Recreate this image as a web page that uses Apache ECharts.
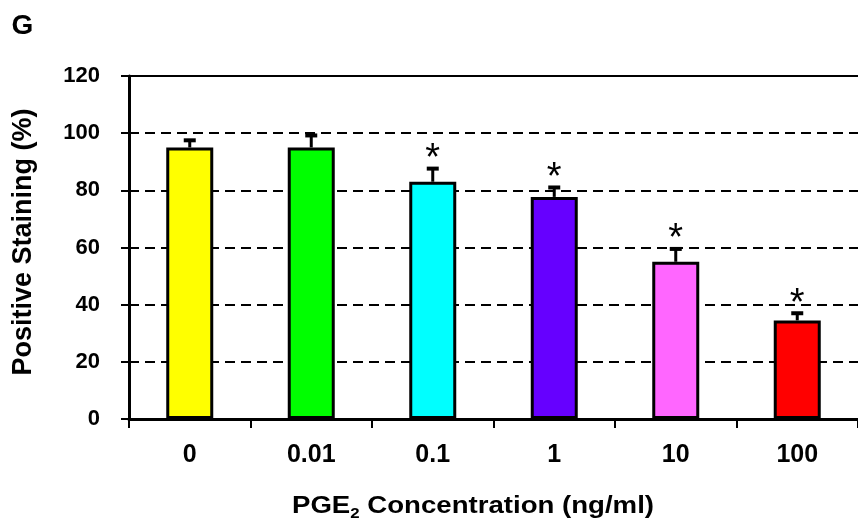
<!DOCTYPE html>
<html>
<head>
<meta charset="utf-8">
<script src="https://cdn.jsdelivr.net/npm/echarts@6/dist/echarts.min.js"></script>
<style>html,body{margin:0;padding:0;background:#fff}#c{width:858px;height:523px}</style>
</head>
<body>
<div id="c"></div>
<script>
var categories = ['0', '0.01', '0.1', '1', '10', '100'];
var means = [95, 95, 83, 77.7, 55, 34.5];
var errors = [2.5, 4.2, 4.6, 3.3, 4.5, 2.5];
var significant = [0, 0, 1, 1, 1, 1];
var barColors = ['#FFFF00', '#00FF00', '#00FFFF', '#6600FF', '#FF66FF', '#FF0000'];
var yTicks = [0, 20, 40, 60, 80, 100, 120];

var FONT = 'Liberation Sans';
var chart = echarts.init(document.getElementById('c'), null, {renderer: 'canvas'});

var barData = means.map(function (v, i) {
  return {value: v, itemStyle: {color: barColors[i]}};
});
var errData = categories.map(function (c, i) {
  return [i, means[i], errors[i], significant[i]];
});

chart.setOption({
  animation: false,
  backgroundColor: '#fff',
  grid: {left: 129, top: 76, width: 738, height: 343, containLabel: false},
  xAxis: [{
    type: 'category',
    data: categories,
    position: 'bottom',
    axisLine: {lineStyle: {color: '#000', width: 3}},
    axisTick: {show: true, length: 9, lineStyle: {color: '#000', width: 2}},
    axisLabel: {color: '#000', fontFamily: FONT, fontWeight: 'bold', fontSize: 25, margin: 24},
    splitLine: {show: false}
  }, {
    type: 'category',
    data: categories,
    position: 'top',
    axisLine: {show: true, lineStyle: {color: '#000', width: 2}},
    axisTick: {show: false},
    axisLabel: {show: false},
    splitLine: {show: false}
  }],
  yAxis: {
    type: 'value',
    min: yTicks[0],
    max: yTicks[yTicks.length - 1],
    interval: yTicks[1] - yTicks[0],
    axisLine: {show: true, lineStyle: {color: '#000', width: 3}},
    axisTick: {show: true, length: 8, lineStyle: {color: '#000', width: 2}},
    axisLabel: {color: '#000', fontFamily: FONT, fontWeight: 'bold', fontSize: 22, margin: 29},
    splitLine: {show: true, showMinLine: false, showMaxLine: false,
      lineStyle: {color: '#000', width: 2, type: [10, 6]}}
  },
  graphic: [
    {type: 'text', x: 22.5, y: 26, style: {text: 'G', font: 'bold 28px "Liberation Sans"', fill: '#000', textAlign: 'center', textVerticalAlign: 'middle'}},
    {type: 'text', x: 24, y: 242, rotation: Math.PI / 2,
      style: {text: 'Positive Staining (%)', font: 'bold 27px "Liberation Sans"', fill: '#000', textAlign: 'center', textVerticalAlign: 'middle'}},
    {type: 'text', x: 473, y: 507, scaleX: 1.2,
      style: {
        text: '{a|PGE}{s|2}{a| Concentration (ng/ml)}',
        textAlign: 'center', textVerticalAlign: 'middle', fill: '#000',
        rich: {
          a: {fontFamily: FONT, fontWeight: 'bold', fontSize: 23, lineHeight: 30, fill: '#000'},
          s: {fontFamily: FONT, fontWeight: 'bold', fontSize: 14, lineHeight: 30, padding: [14, 0, 0, 0], fill: '#000'}
        }
      }}
  ],
  series: [{
    type: 'bar',
    data: barData,
    barWidth: 47,
    itemStyle: {borderColor: '#000', borderWidth: 3},
    z: 3
  }, {
    type: 'custom',
    data: errData,
    z: 4,
    renderItem: function (params, api) {
      var i = api.value(0), m = api.value(1), e = api.value(2), s = api.value(3);
      var base = api.coord([i, m]);
      var top = api.coord([i, m + e]);
      var children = [
        {type: 'line', shape: {x1: base[0], y1: base[1], x2: top[0], y2: top[1] + 1}, style: {stroke: '#000', lineWidth: 3}},
        {type: 'line', shape: {x1: top[0] - 6, y1: top[1], x2: top[0] + 6, y2: top[1]}, style: {stroke: '#000', lineWidth: 4}}
      ];
      if (s) {
        children.push({type: 'text', x: top[0], y: top[1] - 9,
          style: {text: '*', font: 'normal 38px "Liberation Sans"', fill: '#000', textAlign: 'center', textVerticalAlign: 'middle'}});
      }
      return {type: 'group', children: children};
    }
  }]
});
</script>
</body>
</html>
